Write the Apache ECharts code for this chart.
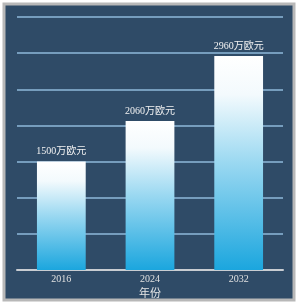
<!DOCTYPE html>
<html>
<head>
<meta charset="utf-8">
<script src="https://cdn.jsdelivr.net/npm/echarts@6/dist/echarts.min.js"></script>
<style>html,body{margin:0;padding:0;background:#fff}#c{width:299px;height:308px}</style>
</head>
<body>
<div id="c"></div>
<script>
const categories = ['2016', '2024', '2032'];
const values = [1500, 2060, 2960];
const labelUnit = '万欧元';
const axisName = '年份';

const chart = echarts.init(document.getElementById('c'), null, {renderer: 'canvas'});
const serif = '"Liberation Serif", "DejaVu Serif", "Noto Sans CJK SC", serif';
chart.setOption({
  backgroundColor: '#ffffff',
  animation: false,
  graphic: [{
    type: 'rect', z: -10, silent: true,
    shape: {x: 4, y: 4, width: 290, height: 296},
    style: {fill: '#2f4b67', stroke: '#b8b8b8', lineWidth: 3}
  }],
  grid: {left: 17, right: 16, top: 17, bottom: 38, containLabel: false},
  xAxis: {
    type: 'category',
    data: categories,
    name: axisName,
    nameLocation: 'middle',
    nameGap: 16,
    nameTextStyle: {color: '#e6e6e6', fontSize: 11, fontFamily: serif},
    axisLine: {lineStyle: {color: '#c9cdd2', width: 2}},
    axisTick: {show: false},
    axisLabel: {color: '#e0e0e0', fontSize: 10, fontFamily: serif, margin: 4}
  },
  yAxis: {
    type: 'value',
    min: 0, max: 3500, interval: 500,
    axisLine: {show: false},
    axisTick: {show: false},
    axisLabel: {show: false},
    splitLine: {lineStyle: {color: '#8fb9da', width: 1.5}}
  },
  series: [{
    type: 'bar',
    data: values,
    barWidth: '55%',
    itemStyle: {
      color: {
        type: 'linear', x: 0, y: 0, x2: 0, y2: 1,
        colorStops: [
          {offset: 0, color: '#ffffff'},
          {offset: 0.18, color: '#f3fafd'},
          {offset: 0.5, color: '#9ad8f1'},
          {offset: 1, color: '#1ba6de'}
        ]
      }
    },
    label: {
      show: true,
      position: 'top',
      distance: 5,
      color: '#f2f2f2',
      fontSize: 10,
      fontFamily: serif,
      formatter: p => p.value + labelUnit
    }
  }]
});
</script>
</body>
</html>
